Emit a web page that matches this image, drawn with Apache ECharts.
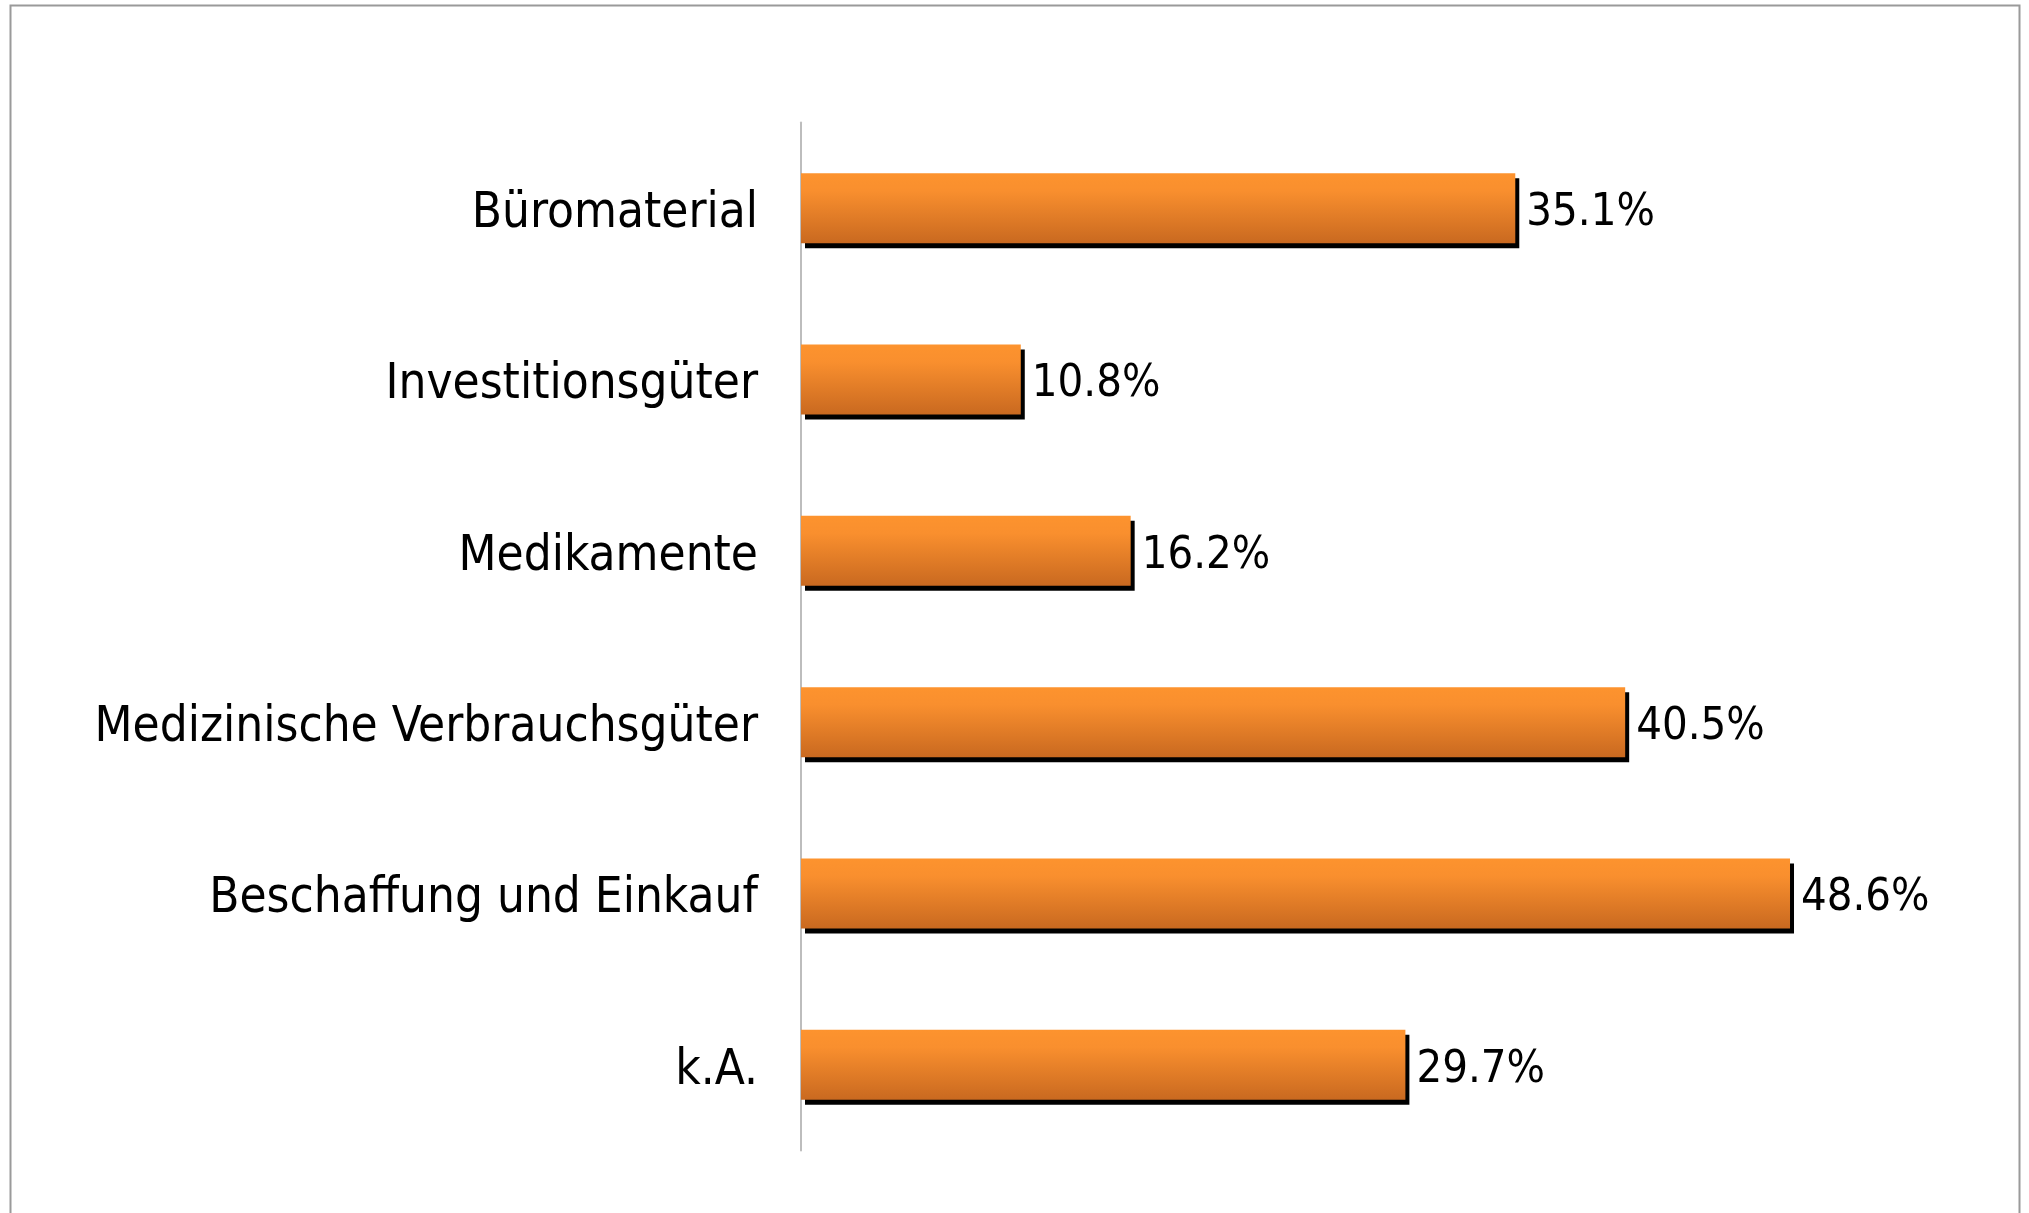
<!DOCTYPE html>
<html>
<head>
<meta charset="utf-8">
<script src="https://cdn.jsdelivr.net/npm/echarts@6/dist/echarts.min.js"></script>
<style>
html,body{margin:0;padding:0;background:#fff;}
#chart{width:2029px;height:1213px;}
</style>
</head>
<body>
<div id="chart"></div>
<script>
const categories = ["Büromaterial", "Investitionsgüter", "Medikamente", "Medizinische Verbrauchsgüter", "Beschaffung und Einkauf", "k.A."];
const values = [35.1, 10.8, 16.2, 40.5, 48.6, 29.7];

const narrow = "'Liberation Sans Narrow', 'Arial Narrow', 'DejaVu Sans Condensed', sans-serif";
const chart = echarts.init(document.getElementById('chart'));
chart.setOption({
  animation: false,
  backgroundColor: '#ffffff',
  graphic: [{
    type: 'rect', silent: true, z: -1,
    shape: {x: 10.5, y: 5.5, width: 2009, height: 1300},
    style: {fill: 'none', stroke: '#9a9a9a', lineWidth: 2}
  }],
  grid: {left: 801, top: 122.5, height: 1028, width: 1017.5, containLabel: false, outerBoundsMode: 'none'},
  xAxis: {type: 'value', min: 0, max: 50, show: false, splitLine: {show: false}},
  yAxis: {
    type: 'category', data: categories, inverse: true,
    axisLine: {show: true, lineStyle: {color: '#bdbdbd', width: 2}},
    axisTick: {show: false},
    axisLabel: {
      margin: 43, color: '#000',
      formatter: v => '{c|' + v + '}',
      rich: {c: {fontFamily: narrow, fontSize: 49, color: '#000', padding: [12, 0, 0, 0]}}
    }
  },
  series: [{
    type: 'bar', data: values, barWidth: 70,
    itemStyle: {
      color: new echarts.graphic.LinearGradient(0, 0, 0, 1, [
        {offset: 0, color: '#fd932e'},
        {offset: 0.25, color: '#f98f2e'},
        {offset: 1, color: '#c96920'}
      ]),
      shadowColor: '#000', shadowBlur: 0, shadowOffsetX: 4, shadowOffsetY: 5
    },
    label: {
      show: true, position: 'right', distance: 11, offset: [0, 5],
      formatter: p => p.value.toFixed(1) + '%',
      fontFamily: narrow, fontSize: 45, color: '#000'
    }
  }]
});
</script>
</body>
</html>
